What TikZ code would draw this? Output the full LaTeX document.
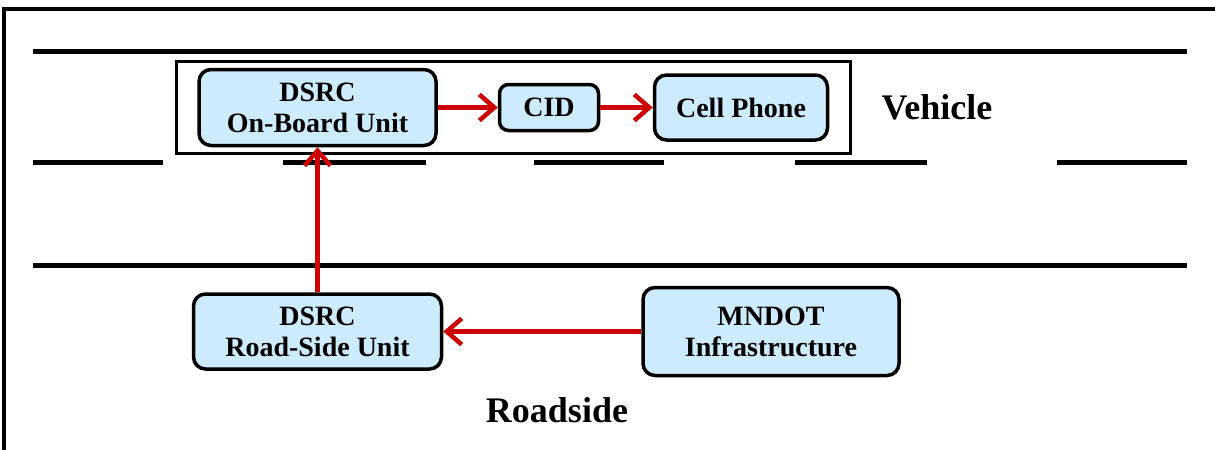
\documentclass[tikz,border=0pt]{standalone}
\usepackage{fontspec}
\setmainfont{Liberation Serif}
\usetikzlibrary{arrows.meta}
\definecolor{boxblue}{RGB}{205,235,251}
\definecolor{arrowred}{RGB}{204,0,0}
\begin{document}
\begin{tikzpicture}[x=1pt,y=-1pt,
  unit/.style={draw=black, line width=3.5pt, fill=boxblue, rounded corners=12pt,
    align=center, inner sep=0pt, font=\bfseries\fontsize{28}{31}\selectfont},
  road/.style={line width=5pt},
  link/.style={draw=arrowred, line width=4.5pt, -{Straight Barb[length=15pt,width=26pt]}},
  lbl/.style={font=\bfseries\fontsize{36}{40}\selectfont, inner sep=0pt}]
\useasboundingbox (0,0) rectangle (1215,450);
% frame
\draw[line width=4pt] (4,450) -- (4,9) -- (1215,9);
% road
\draw[road] (33,51) -- (1187,51);
\draw[road] (33,265) -- (1187,265);
\foreach \a/\b in {33/163,283/426,534/664,795/927,1057/1187}
  \draw[road] (\a,162) -- (\b,162);
% vehicle box
\node[draw, line width=3pt, minimum width=674pt, minimum height=92pt, inner sep=0pt] (veh) at (513.5,107.5) {};
% units
\node[unit, minimum width=237pt, minimum height=76pt] (obu) at (317.5,107.5) {DSRC\\On-Board Unit};
\node[unit, minimum width=99pt, minimum height=46pt, rounded corners=9pt] (cid) at (549,107.5) {CID};
\node[unit, minimum width=173pt, minimum height=65pt] (cell) at (741,107.5) {Cell Phone};
\node[unit, minimum width=248pt, minimum height=75pt] (rsu) at (317.5,331.5) {DSRC\\Road-Side Unit};
\node[unit, minimum width=256pt, minimum height=88pt] (mndot) at (771,331.5) {MNDOT\\Infrastructure};
% labels
\node[lbl] (vlabel) at (937,107) {Vehicle};
\node[lbl] (rlabel) at (557,410) {Roadside};
% connectors
\draw[link] (obu) -- (cid);
\draw[link] (cid) -- (cell);
\draw[link] (rsu) -- (obu);
\draw[link] (mndot) -- (rsu);
\end{tikzpicture}
\end{document}
